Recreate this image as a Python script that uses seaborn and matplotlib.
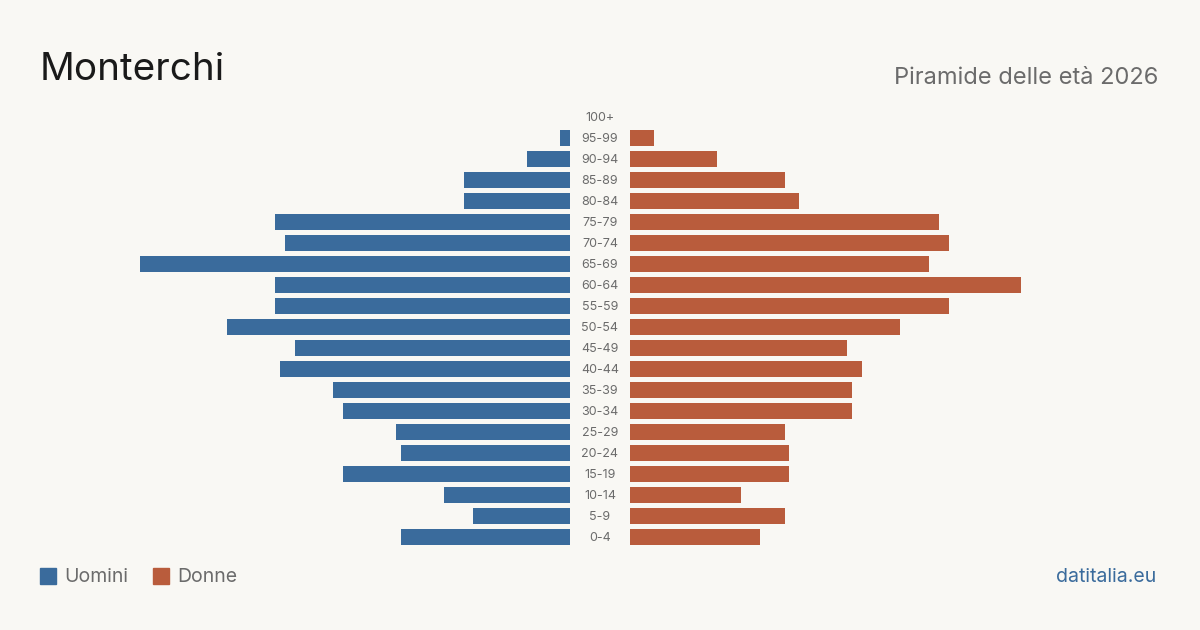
import matplotlib.pyplot as plt
import pandas as pd
import seaborn as sns

age_groups = ["100+", "95-99", "90-94", "85-89", "80-84", "75-79", "70-74",
              "65-69", "60-64", "55-59", "50-54", "45-49", "40-44", "35-39",
              "30-34", "25-29", "20-24", "15-19", "10-14", "5-9", "0-4"]
uomini = [0, 2, 9, 22, 22, 61, 59, 89, 61, 61, 71, 57, 60, 49, 47, 36, 35,
          47, 26, 20, 35]
donne = [0, 5, 18, 32, 35, 64, 66, 62, 81, 66, 56, 45, 48, 46, 46, 32, 33,
         33, 23, 32, 27]

BG = "#f9f8f4"
BLUE = "#3a6b9c"
ORANGE = "#b95c3c"

df = pd.DataFrame({"eta": age_groups, "uomini": uomini, "donne": donne})

sns.set_style("white")
plt.rcParams["font.family"] = ["Inter", "DejaVu Sans"]

fig = plt.figure(figsize=(12, 6.3), dpi=100, facecolor=BG)

W, H = 1200, 630
top = 1 - 106.5 / H
bottom = 1 - 547.5 / H
half = 470
xmax = half / 4.83

ax_l = fig.add_axes([(570 - half) / W, bottom, half / W, top - bottom])
ax_r = fig.add_axes([630 / W, bottom, half / W, top - bottom])
ax_m = fig.add_axes([570 / W, bottom, 60 / W, top - bottom])

sns.barplot(data=df, x="uomini", y="eta", order=age_groups, color=BLUE,
            width=0.8, saturation=1, linewidth=0, ax=ax_l)
sns.barplot(data=df, x="donne", y="eta", order=age_groups, color=ORANGE,
            width=0.8, saturation=1, linewidth=0, ax=ax_r)

ax_l.set_xlim(xmax, 0)
ax_r.set_xlim(0, xmax)

for ax in (ax_l, ax_r, ax_m):
    ax.set_ylim(len(age_groups) - 0.5, -0.5)
    ax.set_facecolor("none")
    ax.axis("off")

ax_m.set_xlim(0, 1)
for i, lab in enumerate(age_groups):
    ax_m.text(0.5, i + 0.05, lab, ha="center", va="center", fontsize=9,
              color="#6b6b6b")

fig.text(40 / W, 1 - 70 / H, "Monterchi", fontsize=27.8, color="#1a1a1a",
         ha="left", va="center")
fig.text(1158 / W, 1 - 78 / H, "Piramide delle età 2026", fontsize=17,
         color="#6b6b6b", ha="right", va="center")

# legend
fig.patches.append(plt.Rectangle((40 / W, 1 - 584 / H), 16 / W, 16 / H,
                                 transform=fig.transFigure, color=BLUE))
fig.text(64 / W, 1 - 577 / H, "Uomini", fontsize=14, color="#6b6b6b",
         ha="left", va="center")
fig.patches.append(plt.Rectangle((153 / W, 1 - 584 / H), 16 / W, 16 / H,
                                 transform=fig.transFigure, color=ORANGE))
fig.text(177 / W, 1 - 577 / H, "Donne", fontsize=14, color="#6b6b6b",
         ha="left", va="center")

fig.text(1156 / W, 1 - 577 / H, "datitalia.eu", fontsize=14, color=BLUE,
         ha="right", va="center")

fig.savefig("out.png", dpi=100, facecolor=BG)
